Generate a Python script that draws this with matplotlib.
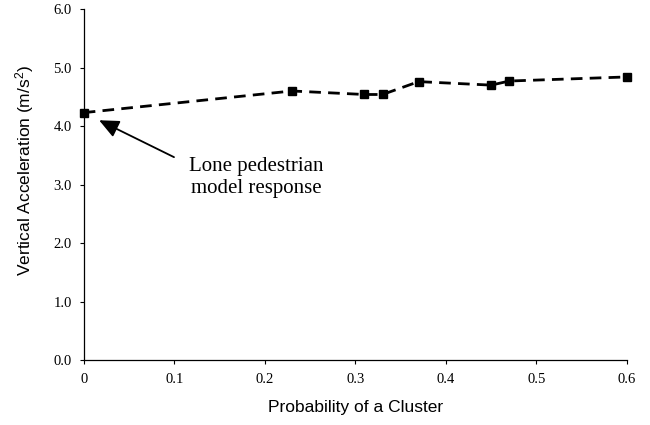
import matplotlib
matplotlib.use("Agg")
import matplotlib.pyplot as plt

# Data
cluster_prob = [0.0, 0.23, 0.31, 0.33, 0.37, 0.45, 0.47, 0.60]
vert_accel = [4.23, 4.60, 4.54, 4.54, 4.76, 4.70, 4.77, 4.84]

x_ticks = [0.0, 0.1, 0.2, 0.3, 0.4, 0.5, 0.6]
x_tick_labels = ["0", "0.1", "0.2", "0.3", "0.4", "0.5", "0.6"]
y_ticks = [0.0, 1.0, 2.0, 3.0, 4.0, 5.0, 6.0]
y_tick_labels = ["0.0", "1.0", "2.0", "3.0", "4.0", "5.0", "6.0"]

SERIF = "Liberation Serif"
SANS = "Liberation Sans"
plt.rcParams["mathtext.default"] = "regular"


def main():
    fig = plt.figure(figsize=(6.5, 4.25), dpi=100)
    ax = fig.add_axes([0.1288, 0.1522, 0.8358, 0.8266])

    ax.plot(cluster_prob, vert_accel, color="black", lw=2.0,
            linestyle=(0, (4.2, 2.6)), marker="s", markersize=6,
            clip_on=False, zorder=3)

    ax.set_xlim(0, 0.6)
    ax.set_ylim(0, 6.0)
    ax.set_xticks(x_ticks)
    ax.set_xticklabels(x_tick_labels, fontfamily=SERIF, fontsize=10.5)
    ax.set_yticks(y_ticks)
    ax.set_yticklabels(y_tick_labels, fontfamily=SERIF, fontsize=10.5)
    ax.tick_params(axis="x", direction="out", length=3, width=0.8, pad=6)
    ax.tick_params(axis="y", direction="out", length=3, width=0.8, pad=5.5)

    for side in ("top", "right"):
        ax.spines[side].set_visible(False)
    for side in ("left", "bottom"):
        ax.spines[side].set_linewidth(0.9)

    ax.set_xlabel("Probability of a Cluster", fontfamily=SANS, fontsize=12.5,
                  va="top")
    ax.xaxis.set_label_coords(0.5, -0.114)
    ax.set_ylabel("Vertical Acceleration (m/s$^2$)", fontfamily=SANS,
                  fontsize=12.5, va="center")
    ax.yaxis.set_label_coords(-0.108, 0.54)

    # Annotation arrow and text
    ax.annotate("", xy=(0.017, 4.10), xytext=(0.0997, 3.47),
                arrowprops=dict(arrowstyle="-|>,head_length=1.0,head_width=0.45",
                                color="black", lw=1.3, mutation_scale=12,
                                shrinkA=0, shrinkB=0))
    ax.text(0.191, 3.12, "Lone pedestrian\nmodel response", ha="center",
            va="center", fontfamily=SERIF, fontsize=15, linespacing=1.22)

    fig.savefig("out.png", dpi=100)


if __name__ == "__main__":
    main()
